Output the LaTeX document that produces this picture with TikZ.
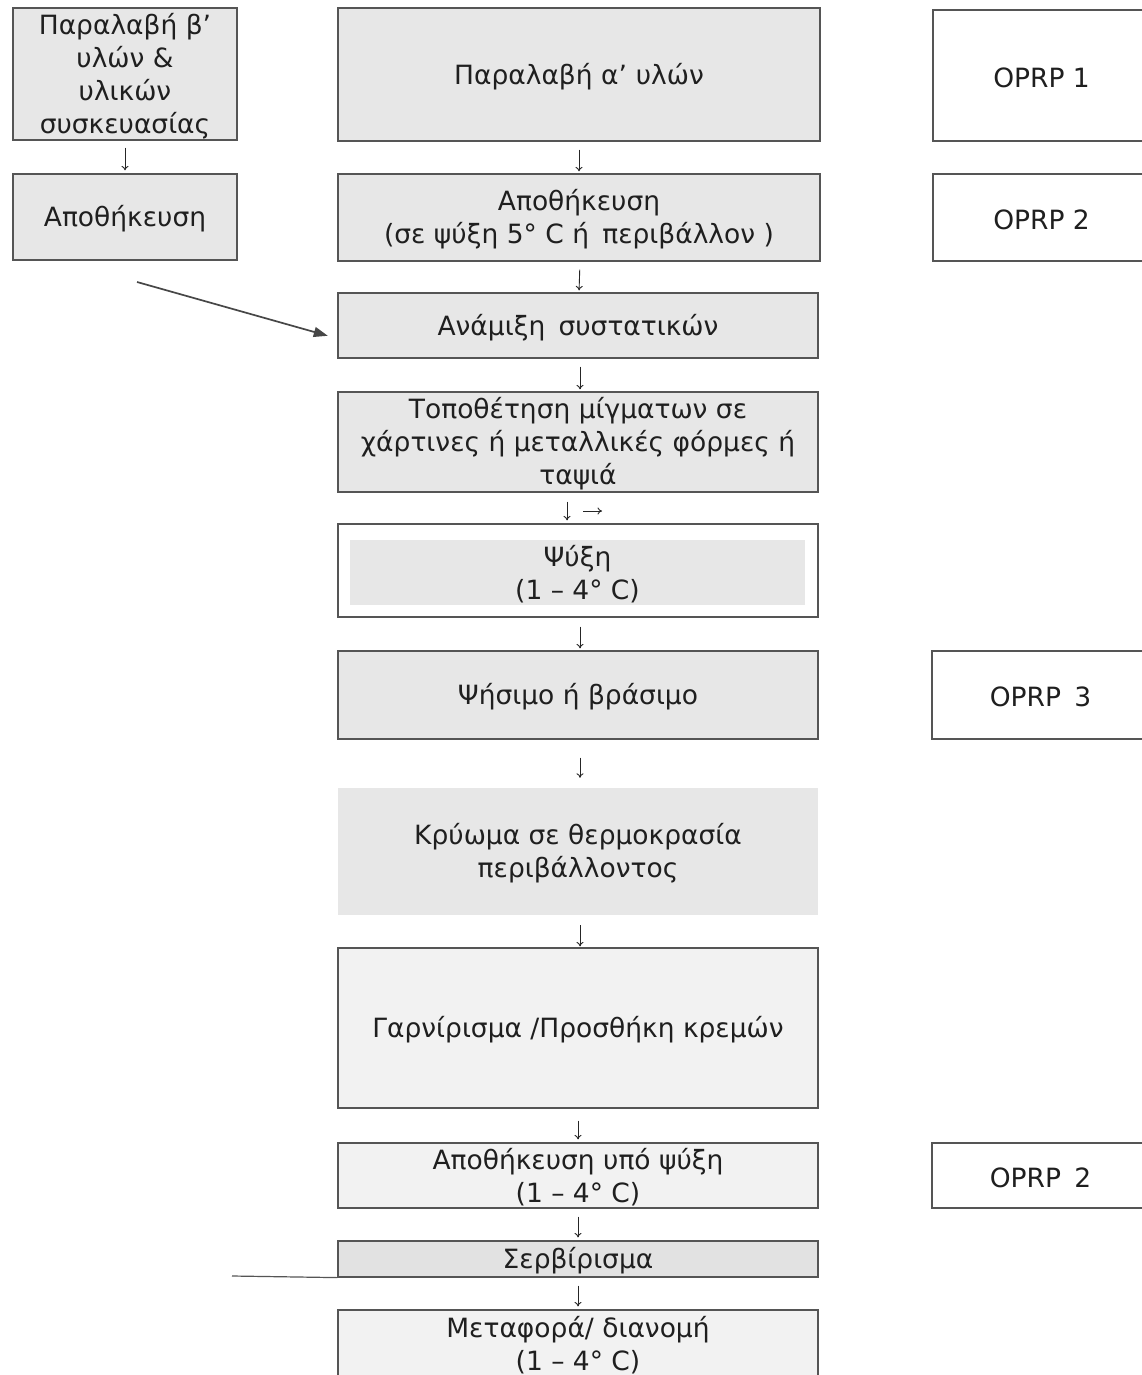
\documentclass[tikz,border=0pt]{standalone}
\usepackage{fontspec}
\setmainfont{DejaVu Sans}
\usetikzlibrary{arrows.meta}
\definecolor{boxgray}{RGB}{231,231,231}
\definecolor{lightgray2}{RGB}{242,242,242}
\definecolor{servgray}{RGB}{226,226,226}
\definecolor{edge}{RGB}{85,85,85}
\begin{document}
\begin{tikzpicture}[x=1pt,y=-1pt,
  every node/.style={font=\fontsize{26.5}{33}\selectfont, text=black!88, align=center, inner sep=0pt},
  graybox/.style={draw=edge, line width=1.2pt, fill=boxgray, minimum width=#1},
  graybox/.default=482,
  whitebox/.style={draw=edge, line width=1.2pt, fill=white},
  oprp/.style={draw=edge, line width=1.2pt, fill=white, minimum width=217},
  flow/.style={-{To[length=4.5pt,width=7pt]}, line width=0.9pt, black!85},
  lowered/.style={text height=#1},
]
\useasboundingbox (0,0) rectangle (1142,1375);
\fill[white] (0,0) rectangle (1142,1375);

% left column
\node[graybox=224, minimum height=132] (lb1) at (125,74) {\rule{0pt}{25pt}Παραλαβή β’\\υλών \&\\υλικών\\συσκευασίας};
\node[graybox=224, minimum height=86] (lb2) at (125,217) {\rule{0pt}{24pt}Αποθήκευση};

% centre column
\node[graybox, minimum height=133] (c1) at (579,74.5) {\rule{0pt}{25pt}Παραλαβή α’\,\,υλών};
\node[graybox, minimum height=87] (c2) at (579,217.5) {\rule{0pt}{24pt}Αποθήκευση\\(σε ψύξη 5° C ή\,\,\,περιβάλλον )};
\node[graybox=480, minimum height=65] (c3) at (578,325.5) {\rule{0pt}{25pt}Ανάμιξη\,\,\,συστατικών};
\node[graybox=480, minimum height=100] (c4) at (578,442) {\rule{0pt}{24pt}Τοποθέτηση μίγματων σε\\χάρτινες ή μεταλλικές φόρμες ή\\ταψιά};
\node[whitebox, minimum width=480, minimum height=93] (c5) at (578,570.5) {};
\node[fill=boxgray, minimum width=455, minimum height=65] (c5i) at (577.5,572.5) {\rule{0pt}{24pt}Ψύξη\\(1 – 4° C)};
\node[graybox=480, minimum height=88] (c6) at (578,695) {\rule{0pt}{25pt}Ψήσιμο ή βράσιμο};
\node[fill=boxgray, minimum width=480, minimum height=127] (c7) at (578,851.5) {\rule{0pt}{24pt}Κρύωμα σε θερμοκρασία\\περιβάλλοντος};
\node[draw=edge, line width=1.2pt, fill=lightgray2, minimum width=480, minimum height=160] (c8) at (578,1028) {\rule{0pt}{25pt}Γαρνίρισμα /Προσθήκη κρεμών};
\node[draw=edge, line width=1.2pt, fill=lightgray2, minimum width=480, minimum height=65] (c9) at (578,1175.5) {\rule{0pt}{24pt}Αποθήκευση υπό ψύξη\\(1 – 4° C)};
\node[draw=edge, line width=1.2pt, fill=servgray, minimum width=480, minimum height=36] (c10) at (578,1259) {\rule{0pt}{24pt}Σερβίρισμα};
\node[draw=edge, line width=1.2pt, fill=lightgray2, minimum width=480, minimum height=70] (c11) at (578,1345) {Μεταφορά/ διανομή\\(1 – 4° C)};

% right column
\node[oprp, minimum height=131] (o1) at (1041.5,75.5) {\rule{0pt}{24pt}OPRP 1};
\node[oprp, minimum height=87] (o2) at (1041.5,217.5) {\rule{0pt}{24pt}OPRP 2};
\node[oprp, minimum height=88] (o3) at (1040.5,695) {\rule{0pt}{24pt}OPRP\,\,\,3};
\node[oprp, minimum height=65] (o4) at (1040.5,1175.5) {\rule{0pt}{24pt}OPRP\,\,\,2};

% connectors
\draw[flow, shorten <=7pt, shorten >=3pt] (lb1) -- (lb2);
\draw[flow, shorten <=8pt, shorten >=2pt] (c1) -- (c2);
\draw[flow, shorten <=8pt, shorten >=2pt] ([xshift=1pt]c2.south) -- ([xshift=1pt]c3.north);
\draw[flow, shorten <=8pt, shorten >=2pt] ([xshift=2pt]c3.south) -- ([xshift=2pt]c4.north);
\draw[flow, shorten <=9pt, shorten >=3pt] ([xshift=-11pt]c4.south) -- ([xshift=-11pt]c5.north);
\coordinate (r1) at (583,511);
\coordinate (r2) at (602,511);
\draw[flow] (r1) -- (r2);
\draw[flow, shorten <=9pt, shorten >=2pt] ([xshift=2pt]c5.south) -- ([xshift=2pt]c6.north);
\draw[flow, shorten <=18pt, shorten >=10pt] ([xshift=2pt]c6.south) -- ([xshift=2pt]c7.north);
\draw[flow, shorten <=10pt, shorten >=1pt] ([xshift=2pt]c7.south) -- ([xshift=2pt]c8.north);
\draw[flow, shorten <=12pt, shorten >=3pt] (c8) -- (c9);
\draw[flow, shorten <=8pt, shorten >=3pt] (c9) -- (c10);
\draw[flow, shorten <=8pt, shorten >=3pt] (c10) -- (c11);

\coordinate (dstart) at (137,282);
\draw[-{Triangle[length=14pt,width=10pt]}, line width=1.7pt, black!72, shorten >=10pt] (dstart) -- ([yshift=-13pt]c3.west);

\coordinate (lineL) at (232,1276);
\draw[line width=1.2pt, edge] (lineL) -- (c10.south west);
\end{tikzpicture}
\end{document}
